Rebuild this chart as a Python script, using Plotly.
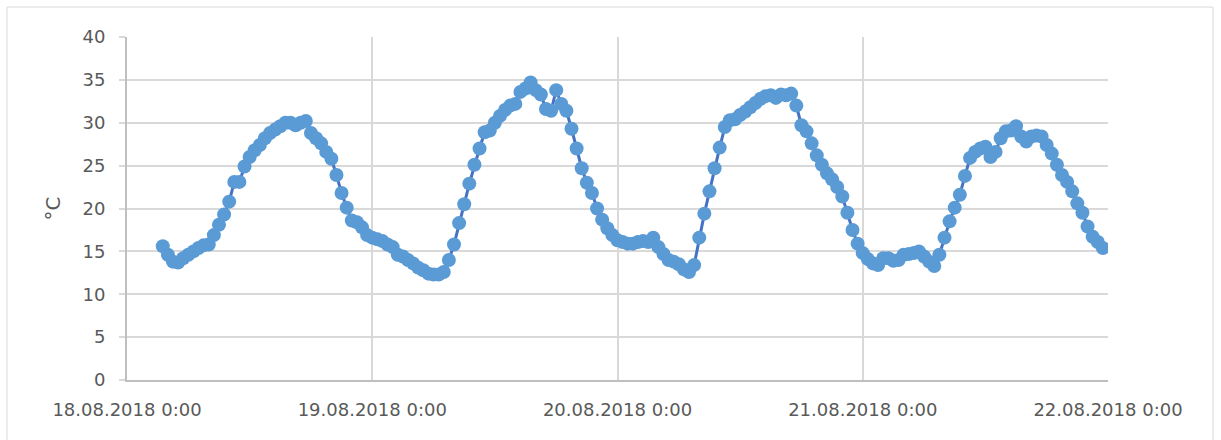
import pandas as pd
import plotly.graph_objects as go

# Half-hourly air temperature readings, 18.08.2018 03:30 .. 21.08.2018 23:30
start_time = "2018-08-18 03:30"
step = "30min"

temp_day1 = [
    15.6, 14.6, 13.8, 13.7, 14.2, 14.6, 15.0, 15.4, 15.7, 15.8,
    16.9, 18.1, 19.3, 20.8, 23.1, 23.1, 24.9, 26.0, 26.8, 27.4,
    28.2, 28.8, 29.2, 29.6, 30.0, 30.0, 29.7, 30.0, 30.2, 28.8,
    28.2, 27.6, 26.6, 25.8, 23.9, 21.8, 20.1, 18.6, 18.4, 17.8,
    16.9,
]
temp_day2 = [
    16.6, 16.4, 16.2, 15.8, 15.5, 14.6, 14.4, 14.0, 13.6, 13.1,
    12.8, 12.4, 12.3, 12.3, 12.6, 14.0, 15.8, 18.3, 20.5, 22.9,
    25.1, 27.0, 28.9, 29.1, 30.0, 30.8, 31.5, 32.0, 32.2, 33.6,
    34.0, 34.7, 33.8, 33.3, 31.6, 31.4, 33.8, 32.2, 31.4, 29.3,
    27.0, 24.7, 23.0, 21.8, 20.0, 18.7, 17.7, 16.9,
]
temp_day3 = [
    16.3, 16.1, 15.9, 15.9, 16.1, 16.2, 16.1, 16.6, 15.5, 14.7,
    14.0, 13.8, 13.5, 12.9, 12.6, 13.4, 16.6, 19.4, 22.0, 24.7,
    27.1, 29.5, 30.3, 30.4, 30.9, 31.3, 31.8, 32.3, 32.8, 33.1,
    33.2, 32.9, 33.3, 33.2, 33.4, 32.0, 29.7, 29.0, 27.6, 26.2,
    25.1, 24.1, 23.4, 22.5, 21.4, 19.5, 17.5, 15.9,
]
temp_day4 = [
    14.8, 14.1, 13.6, 13.4, 14.2, 14.2, 13.9, 14.0, 14.6, 14.7,
    14.8, 15.0, 14.4, 13.8, 13.3, 14.6, 16.6, 18.5, 20.1, 21.6,
    23.8, 25.9, 26.6, 27.0, 27.2, 26.0, 26.6, 28.2, 29.0, 29.1,
    29.6, 28.4, 27.8, 28.4, 28.5, 28.4, 27.4, 26.4, 25.1, 23.9,
    23.1, 22.0, 20.6, 19.5, 17.9, 16.7, 16.1, 15.4,
]

tick_dates = ["2018-08-18", "2018-08-19", "2018-08-20", "2018-08-21", "2018-08-22"]
tick_labels = ["18.08.2018 0:00", "19.08.2018 0:00", "20.08.2018 0:00",
               "21.08.2018 0:00", "22.08.2018 0:00"]
y_title = "°C"

temps = temp_day1 + temp_day2 + temp_day3 + temp_day4
times = pd.date_range(start=start_time, periods=len(temps), freq=step)

text_color = "#595959"
grid_color = "#d9d9d9"
axis_color = "#bfbfbf"
font_family = "DejaVu Sans"
font_size = 18

fig = go.Figure()
fig.add_trace(go.Scatter(
    x=times,
    y=temps,
    mode="lines+markers",
    line=dict(color="#4472C4", width=3),
    marker=dict(color="#5B9BD5", size=14, line=dict(width=0)),
    showlegend=False,
    hoverinfo="x+y",
))

W, H = 1221, 440
left, right, top, bottom = 127, 1108, 37, 380.5
plot_w = right - left
plot_h = bottom - top


def px_to_paper_x(px):
    return (px - left) / plot_w


def px_to_paper_y(py):
    return (bottom - py) / plot_h


# Outer chart frame
fig.add_shape(
    type="rect", xref="paper", yref="paper",
    x0=px_to_paper_x(7), x1=px_to_paper_x(1213),
    y0=px_to_paper_y(448), y1=px_to_paper_y(7),
    line=dict(color="#d9d9d9", width=1), fillcolor="rgba(0,0,0,0)",
    layer="below",
)

fig.update_layout(
    width=W,
    height=H,
    margin=dict(l=left, r=W - right, t=top, b=H - bottom, pad=0),
    paper_bgcolor="white",
    plot_bgcolor="white",
    font=dict(family=font_family, size=font_size, color=text_color),
    xaxis=dict(
        type="date",
        range=[tick_dates[0], tick_dates[-1]],
        tickmode="array",
        tickvals=tick_dates,
        ticktext=tick_labels,
        showgrid=True,
        gridcolor=grid_color,
        gridwidth=2,
        showline=True,
        linecolor=axis_color,
        linewidth=2,
        ticks="",
        ticklabelstandoff=12,
        zeroline=False,
        tickfont=dict(family=font_family, size=font_size, color=text_color),
    ),
    yaxis=dict(
        range=[0, 40],
        tickmode="linear",
        tick0=0,
        dtick=5,
        showgrid=True,
        gridcolor=grid_color,
        gridwidth=2,
        showline=True,
        linecolor=axis_color,
        linewidth=2,
        ticks="outside",
        ticklen=6,
        tickwidth=2,
        tickcolor=grid_color,
        ticklabelstandoff=10,
        zeroline=False,
        tickfont=dict(family=font_family, size=font_size, color=text_color),
        title=dict(text=y_title, font=dict(family=font_family, size=20, color=text_color),
                   standoff=16),
    ),
)

fig.write_html("out.html")
